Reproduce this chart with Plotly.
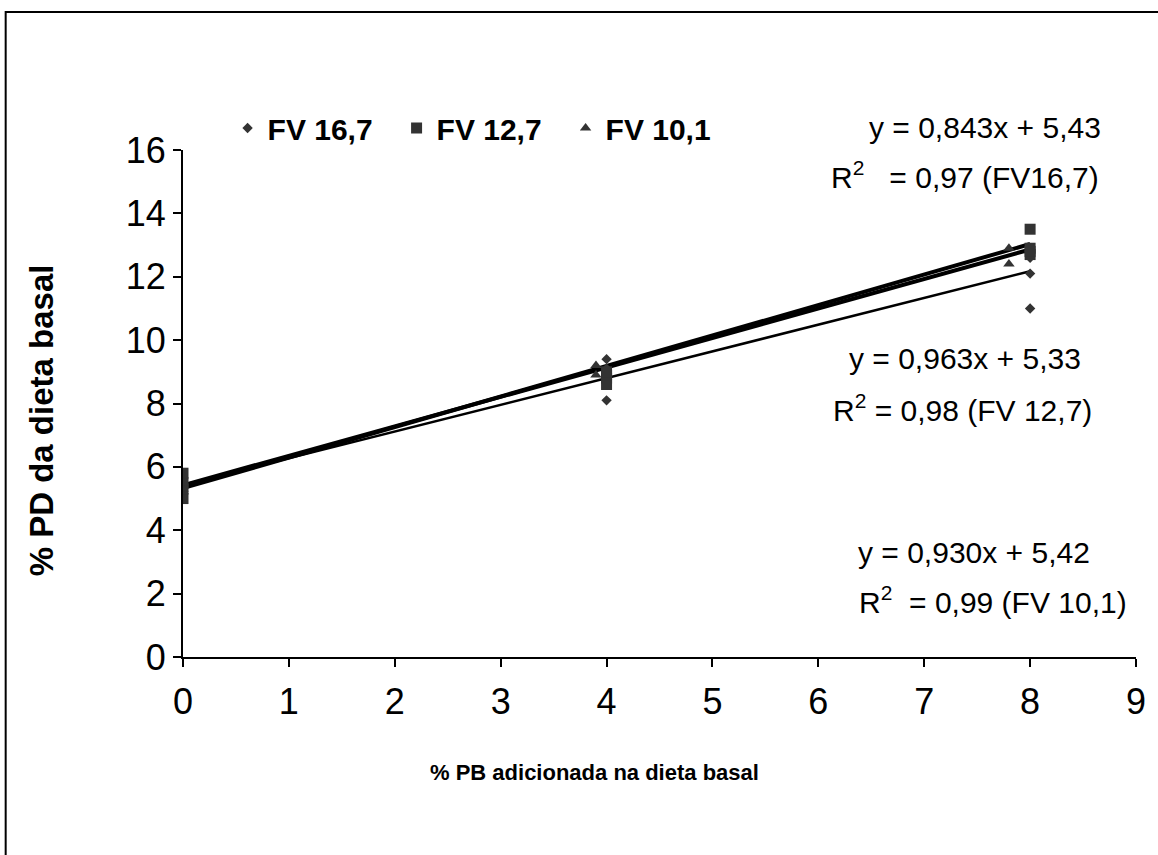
import plotly.graph_objects as go

# ---- data ----
series_names = ["FV 16,7", "FV 12,7", "FV 10,1"]
x_fv167 = [0, 0, 0, 4, 4, 4, 8, 8, 8]
y_fv167 = [5.3, 5.5, 5.6, 9.4, 9.1, 8.1, 12.6, 12.1, 11.0]
x_fv127 = [0, 0, 0, 0, 4, 4, 4, 4, 8, 8, 8, 8]
y_fv127 = [5.0, 5.3, 5.5, 5.8, 8.6, 8.8, 8.9, 9.0, 13.5, 12.9, 12.7, 12.8]
x_fv101 = [0, 0, 3.9, 3.9, 7.8, 7.8]
y_fv101 = [5.3, 5.5, 9.2, 8.9, 12.9, 12.4]

slopes = [0.843, 0.963, 0.930]
intercepts = [5.43, 5.33, 5.42]
fit_x = [0, 8]

eq_texts = ["y = 0,843x + 5,43", "y = 0,963x + 5,33", "y = 0,930x + 5,42"]
r2_texts = ["R<sup>2</sup>   = 0,97 (FV16,7)", "R<sup>2</sup> = 0,98 (FV 12,7)", "R<sup>2</sup>  = 0,99 (FV 10,1)"]

x_ticks = list(range(0, 10))
y_ticks = list(range(0, 17, 2))

x_title = "% PB adicionada na dieta basal"
y_title = "% PD da dieta basal"

# ---- figure ----
W, H = 1158, 855
ml, mr, mt, mb = 183, 13, 150, 198
pw, ph = W - ml - mr, H - mt - mb

def px2paper_x(p):
    return (p - ml) / pw

def px2paper_y(p):
    return (H - mb - p) / ph

fig = go.Figure()
line_widths = [2.5, 4, 4]
for s, b, w in zip(slopes, intercepts, line_widths):
    fig.add_trace(go.Scatter(x=fit_x, y=[b + s * xv for xv in fit_x], mode="lines",
                             line=dict(color="black", width=w), showlegend=False,
                             hoverinfo="skip"))

mk = "#333333"
fig.add_trace(go.Scatter(x=x_fv167, y=y_fv167, mode="markers", name=series_names[0],
                         marker=dict(symbol="diamond", size=8, color=mk)))
fig.add_trace(go.Scatter(x=x_fv127, y=y_fv127, mode="markers", name=series_names[1],
                         marker=dict(symbol="square", size=11, color=mk)))
fig.add_trace(go.Scatter(x=x_fv101, y=y_fv101, mode="markers", name=series_names[2],
                         marker=dict(symbol="triangle-up", size=10, color=mk)))

font_main = "Liberation Sans, Arial, sans-serif"

ann = []
eq_pos = [(993, 127), (972, 358), (981, 552)]
r2_pos = [(972, 175), (970, 408), (1001, 600)]
for t, (px, py) in zip(eq_texts + r2_texts, eq_pos + r2_pos):
    ann.append(dict(x=px2paper_x(px), y=px2paper_y(py), xref="paper", yref="paper",
                    text=t, showarrow=False, xanchor="center", yanchor="middle",
                    font=dict(family=font_main, size=30, color="black")))

# axis titles (centered as in the reference frame)
ann.append(dict(x=px2paper_x(598), y=px2paper_y(772), xref="paper", yref="paper",
                text="<b>" + x_title + "</b>", showarrow=False,
                xanchor="center", yanchor="middle",
                font=dict(family=font_main, size=22, color="black")))
ann.append(dict(x=px2paper_x(40), y=px2paper_y(420), xref="paper", yref="paper",
                text="<b>" + y_title + "</b>", showarrow=False, textangle=-90,
                xanchor="center", yanchor="middle",
                font=dict(family=font_main, size=33, color="black")))

shapes = [dict(type="rect", xref="paper", yref="paper",
               x0=px2paper_x(4), x1=px2paper_x(1175),
               y0=px2paper_y(875), y1=px2paper_y(12),
               line=dict(color="black", width=2), layer="above")]

fig.update_layout(
    width=W, height=H,
    margin=dict(l=ml, r=mr, t=mt, b=mb),
    paper_bgcolor="white", plot_bgcolor="white",
    font=dict(family=font_main, color="black"),
    showlegend=True,
    legend=dict(orientation="h", x=px2paper_x(228), y=px2paper_y(102),
                xanchor="left", yanchor="top",
                font=dict(family=font_main, size=30, color="black", weight="bold"),
                itemwidth=30, entrywidth=124, bgcolor="rgba(0,0,0,0)", tracegroupgap=0),
    annotations=ann,
    shapes=shapes,
    xaxis=dict(range=[0, 9], tickmode="array", tickvals=x_ticks,
               ticktext=[str(v) for v in x_ticks],
               showgrid=False, zeroline=False, showline=True, linecolor="black", linewidth=2,
               ticks="outside", ticklen=8, tickwidth=2, tickcolor="black",
               ticklabelstandoff=4,
               tickfont=dict(size=36, family=font_main)),
    yaxis=dict(range=[0, 16], tickmode="array", tickvals=y_ticks,
               ticktext=[str(v) for v in y_ticks],
               showgrid=False, zeroline=False, showline=True, linecolor="black", linewidth=2,
               ticks="outside", ticklen=8, tickwidth=2, tickcolor="black",
               ticklabelstandoff=0,
               tickfont=dict(size=36, family=font_main)),
)

fig.write_html("out.html")
